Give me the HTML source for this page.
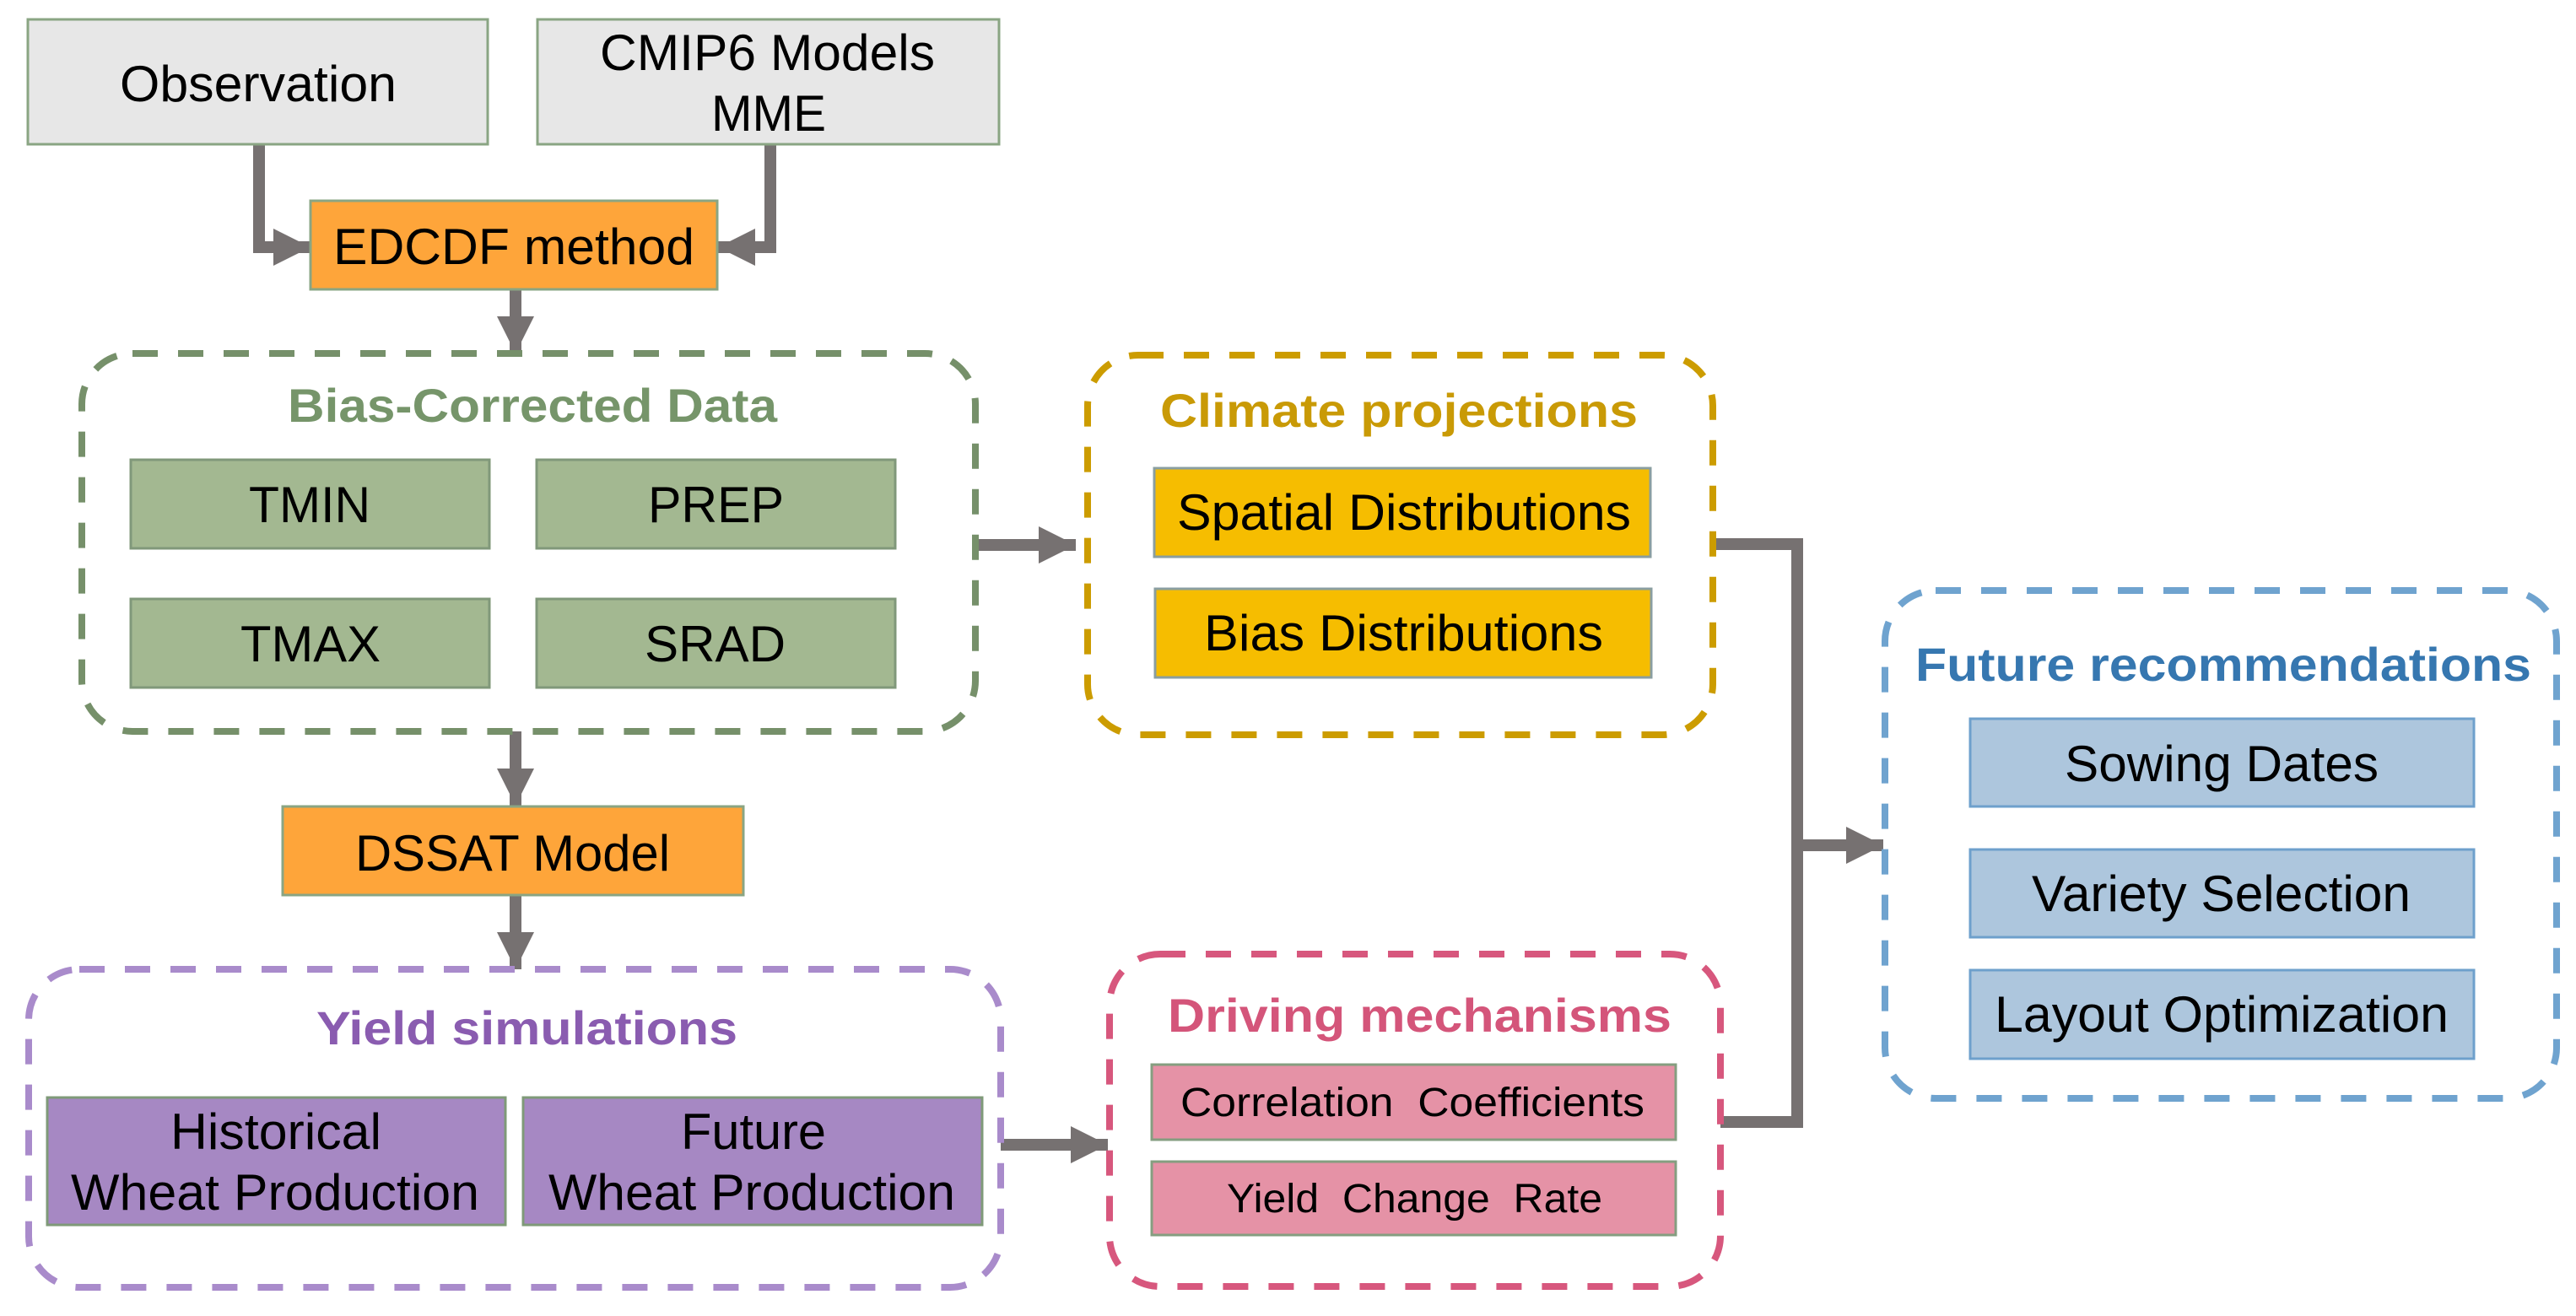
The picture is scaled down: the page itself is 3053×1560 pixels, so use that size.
<!DOCTYPE html>
<html><head><meta charset="utf-8"><style>html,body{margin:0;padding:0;background:#fff}svg{display:block}</style></head><body>
<svg width="3053" height="1560" viewBox="0 0 3053 1560" xmlns="http://www.w3.org/2000/svg" font-family="Liberation Sans, Arial, sans-serif">
<defs>
<marker id="ah" markerUnits="userSpaceOnUse" markerWidth="46" markerHeight="44" refX="44" refY="22" orient="auto"><path d="M0,0 L44,22 L0,44 Z" fill="#767171"/></marker>
</defs>
<g fill="none" stroke="#767171" stroke-width="14">
<path d="M307,171 V293 H368" marker-end="url(#ah)"/>
<path d="M913,171 V293 H851" marker-end="url(#ah)"/>
<path d="M611,344 V419" marker-end="url(#ah)"/>
<path d="M611,867 V955" marker-end="url(#ah)"/>
<path d="M611,1061 V1149" marker-end="url(#ah)"/>
<path d="M1156,646 H1275" marker-end="url(#ah)"/>
<path d="M1186,1357 H1313" marker-end="url(#ah)"/>
<path d="M2030,645 H2130 V1330 H2039"/>
<path d="M2130,1002 H2232" marker-end="url(#ah)"/>
</g>
<g stroke-width="8" fill="none" stroke-dasharray="30 24">
<rect x="97" y="419" width="1059" height="448" rx="60" stroke="#76906a"/>
<rect x="1289" y="421" width="741" height="450" rx="60" stroke="#cc9c00"/>
<rect x="2234" y="700" width="796" height="602" rx="60" stroke="#6fa3cf"/>
<rect x="1315" y="1131" width="724" height="394" rx="60" stroke="#d7577d"/>
<rect x="34" y="1149" width="1152" height="377" rx="60" stroke="#a98bcb"/>
</g>
<g stroke-width="3">
<rect x="33" y="23" width="545" height="148" fill="#e7e7e7" stroke="#8aa583"/>
<rect x="637" y="23" width="547" height="148" fill="#e7e7e7" stroke="#8aa583"/>
<rect x="368" y="238" width="482" height="105" fill="#fea53a" stroke="#8aa583"/>
<rect x="155" y="545" width="425" height="105" fill="#a3b891" stroke="#80987a"/>
<rect x="636" y="545" width="425" height="105" fill="#a3b891" stroke="#80987a"/>
<rect x="155" y="710" width="425" height="105" fill="#a3b891" stroke="#80987a"/>
<rect x="636" y="710" width="425" height="105" fill="#a3b891" stroke="#80987a"/>
<rect x="335" y="956" width="546" height="105" fill="#fea53a" stroke="#8aa583"/>
<rect x="56" y="1301" width="543" height="151" fill="#a688c3" stroke="#7f9a78"/>
<rect x="620" y="1301" width="544" height="151" fill="#a688c3" stroke="#7f9a78"/>
<rect x="1368" y="555" width="588" height="105" fill="#f6bd00" stroke="#8a9ea0"/>
<rect x="1369" y="698" width="588" height="105" fill="#f6bd00" stroke="#8a9ea0"/>
<rect x="2335" y="852" width="597" height="104" fill="#adc6dd" stroke="#6ea0cc"/>
<rect x="2335" y="1007" width="597" height="104" fill="#adc6dd" stroke="#6ea0cc"/>
<rect x="2335" y="1150" width="597" height="105" fill="#adc6dd" stroke="#6ea0cc"/>
<rect x="1365" y="1262" width="621" height="89" fill="#e592a6" stroke="#859e80"/>
<rect x="1365" y="1377" width="621" height="87" fill="#e592a6" stroke="#859e80"/>
</g>
<g fill="#000" font-size="60">
<text x="142" y="120" textLength="328" lengthAdjust="spacingAndGlyphs">Observation</text>
<text x="711" y="83" textLength="397" lengthAdjust="spacingAndGlyphs">CMIP6 Models</text>
<text x="843" y="155" textLength="136" lengthAdjust="spacingAndGlyphs">MME</text>
<text x="395" y="313" textLength="428" lengthAdjust="spacingAndGlyphs">EDCDF method</text>
<text x="295" y="619" textLength="144" lengthAdjust="spacingAndGlyphs">TMIN</text>
<text x="768" y="619" textLength="161" lengthAdjust="spacingAndGlyphs">PREP</text>
<text x="285" y="784" textLength="166" lengthAdjust="spacingAndGlyphs">TMAX</text>
<text x="764" y="784" textLength="167" lengthAdjust="spacingAndGlyphs">SRAD</text>
<text x="421" y="1032" textLength="373" lengthAdjust="spacingAndGlyphs">DSSAT Model</text>
<text x="202" y="1362" textLength="250" lengthAdjust="spacingAndGlyphs">Historical</text>
<text x="84" y="1434" textLength="484" lengthAdjust="spacingAndGlyphs">Wheat Production</text>
<text x="807" y="1362" textLength="172" lengthAdjust="spacingAndGlyphs">Future</text>
<text x="650" y="1434" textLength="482" lengthAdjust="spacingAndGlyphs">Wheat Production</text>
<text x="1395" y="628" textLength="538" lengthAdjust="spacingAndGlyphs">Spatial Distributions</text>
<text x="1427" y="771" textLength="473" lengthAdjust="spacingAndGlyphs">Bias Distributions</text>
<text x="2447" y="926" textLength="372" lengthAdjust="spacingAndGlyphs">Sowing Dates</text>
<text x="2408" y="1080" textLength="449" lengthAdjust="spacingAndGlyphs">Variety Selection</text>
<text x="2364" y="1223" textLength="538" lengthAdjust="spacingAndGlyphs">Layout Optimization</text>
<text x="1399" y="1323" font-size="48" textLength="550" lengthAdjust="spacingAndGlyphs" xml:space="preserve">Correlation  Coefficients</text>
<text x="1454" y="1437" font-size="48" textLength="445" lengthAdjust="spacingAndGlyphs" xml:space="preserve">Yield  Change  Rate</text>
</g>
<g font-weight="bold" font-size="56">
<text x="341" y="500" fill="#76956a" textLength="580" lengthAdjust="spacingAndGlyphs">Bias-Corrected Data</text>
<text x="1375" y="506" fill="#c99a06" textLength="566" lengthAdjust="spacingAndGlyphs">Climate projections</text>
<text x="2270" y="807" fill="#3677b0" textLength="730" lengthAdjust="spacingAndGlyphs">Future recommendations</text>
<text x="1384" y="1223" fill="#d4557a" textLength="597" lengthAdjust="spacingAndGlyphs">Driving mechanisms</text>
<text x="375" y="1238" fill="#8a5cb0" textLength="499" lengthAdjust="spacingAndGlyphs">Yield simulations</text>
</g>
</svg>
</body></html>
